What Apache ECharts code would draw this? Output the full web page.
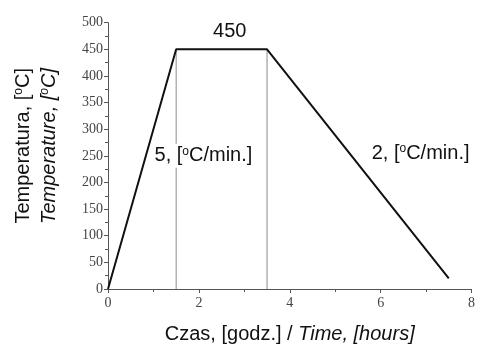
<!DOCTYPE html>
<html><head><meta charset="utf-8">
<script src="https://cdn.jsdelivr.net/npm/echarts@6/dist/echarts.min.js"></script>
<style>html,body{margin:0;padding:0;background:#fff}#c{width:478px;height:349px}</style>
</head><body><div id="c"></div>
<script>
// Data
const timeHours = [0, 1.5, 3.5, 7.5];
const temperatureC = [0, 450, 450, 20];
const holdStartEnd = [1.5, 3.5];
const holdTemp = 450;
const annotationTexts = ['450', '5, [{s|o}C/min.]', '2, [{s|o}C/min.]'];
const annotationX = [2.68, 2.10, 6.88];
const annotationY = [483, 250, 255];
const xTicks = [0, 2, 4, 6, 8];
const yTicks = [0, 50, 100, 150, 200, 250, 300, 350, 400, 450, 500];

const chart = echarts.init(document.getElementById('c'));
const sans = 'Liberation Sans, Arial, sans-serif';
const serif = 'Liberation Serif, Times New Roman, serif';
const txt = '#111';
const supStyle = { fontSize: 12, fontFamily: sans, fill: txt, color: txt, verticalAlign: 'top', lineHeight: 14 };

const mainData = timeHours.map((t, i) => [t, temperatureC[i]]);
const vSeries = holdStartEnd.map(x => ({
  type: 'line', data: [[x, 0], [x, holdTemp]], symbol: 'none', silent: true,
  lineStyle: { color: '#8a8a8a', width: 1 }, z: 1
}));

chart.setOption({
  animation: false,
  grid: { left: 108, right: 0.4, top: 22.7, bottom: 51.3, containLabel: false },
  xAxis: {
    type: 'value', min: xTicks[0], max: xTicks[xTicks.length - 1], interval: 2,
    axisLine: { lineStyle: { color: '#555', width: 1 } },
    axisTick: { length: 4, lineStyle: { color: '#555' } },
    minorTick: { show: true, splitNumber: 2, length: 3, lineStyle: { color: '#555' } },
    splitLine: { show: false },
    axisLabel: { fontFamily: serif, fontSize: 14, color: '#444', margin: 7 },
    name: '{n|Czas, [godz.] / }{i|Time, [hours]}',
    nameLocation: 'middle', nameGap: 35,
    nameTextStyle: {
      rich: {
        n: { fontFamily: sans, fontSize: 20, color: txt },
        i: { fontFamily: sans, fontSize: 20, color: txt, fontStyle: 'italic' }
      }
    }
  },
  yAxis: {
    type: 'value', min: yTicks[0], max: yTicks[yTicks.length - 1], interval: 50,
    axisLine: { show: true, lineStyle: { color: '#555', width: 1 } },
    axisTick: { show: true, length: 4, lineStyle: { color: '#555' } },
    minorTick: { show: true, splitNumber: 2, length: 3, lineStyle: { color: '#555' } },
    splitLine: { show: false },
    axisLabel: { fontFamily: serif, fontSize: 14, color: '#444', margin: 5 }
  },
  series: [
    ...vSeries,
    {
      type: 'line', data: mainData, symbol: 'none', silent: true,
      lineStyle: { color: '#111', width: 2 }, z: 3
    }
  ]
});

const graphics = [
  { type: 'text', x: 23, y: 68, rotation: Math.PI / 2,
    style: { text: '{n|Temperatura, [}{s|o}{n|C]}', align: 'right', verticalAlign: 'middle',
      rich: { n: { fontFamily: sans, fontSize: 20, fill: txt }, s: supStyle } } },
  { type: 'text', x: 49, y: 68, rotation: Math.PI / 2,
    style: { text: '{n|Temperature, [}{s|o}{n|C]}', align: 'right', verticalAlign: 'middle',
      rich: { n: { fontFamily: sans, fontSize: 20, fill: txt, fontStyle: 'italic' },
              s: Object.assign({}, supStyle, { fontStyle: 'italic' }) } } }
];
annotationTexts.forEach((t, i) => {
  const p = chart.convertToPixel({ gridIndex: 0 }, [annotationX[i], annotationY[i]]);
  graphics.push({
    type: 'text', x: p[0], y: p[1], z: 10,
    style: {
      text: t, align: 'center', verticalAlign: 'middle',
      fontFamily: sans, fontSize: 20, fill: txt,
      backgroundColor: '#fff', padding: [2, 1],
      rich: { s: supStyle }
    }
  });
});
chart.setOption({ graphic: graphics });
</script>
</body></html>
